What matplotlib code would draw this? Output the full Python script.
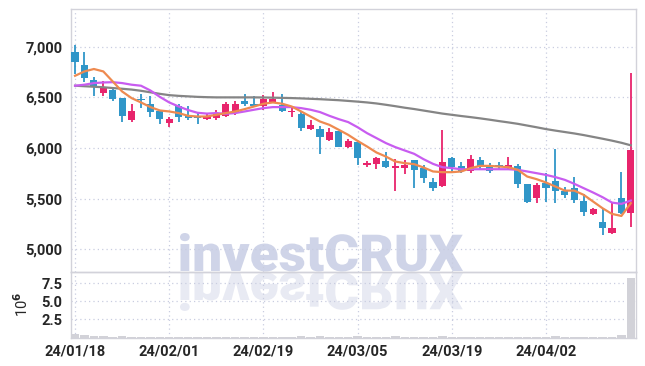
import matplotlib
matplotlib.use("Agg")
import matplotlib.pyplot as plt
from matplotlib.textpath import TextPath
from matplotlib.patches import PathPatch
from matplotlib.font_manager import FontProperties
from matplotlib.transforms import Affine2D, IdentityTransform
from matplotlib.ticker import FuncFormatter, FixedLocator

dates = ["24/01/18", "24/01/19", "24/01/22", "24/01/23", "24/01/24", "24/01/25", "24/01/26", "24/01/29", "24/01/30", "24/01/31",
         "24/02/01", "24/02/02", "24/02/05", "24/02/06", "24/02/07", "24/02/08", "24/02/13", "24/02/14", "24/02/15", "24/02/16",
         "24/02/19", "24/02/20", "24/02/21", "24/02/22", "24/02/23", "24/02/26", "24/02/27", "24/02/28", "24/02/29", "24/03/04",
         "24/03/05", "24/03/06", "24/03/07", "24/03/08", "24/03/11", "24/03/12", "24/03/13", "24/03/14", "24/03/15", "24/03/18",
         "24/03/19", "24/03/20", "24/03/21", "24/03/22", "24/03/25", "24/03/26", "24/03/27", "24/03/28", "24/03/29", "24/04/01",
         "24/04/02", "24/04/03", "24/04/04", "24/04/05", "24/04/08", "24/04/09", "24/04/11", "24/04/12", "24/04/15", "24/04/16"]

opens = [6950, 6820, 6670, 6545, 6570, 6490, 6275, 6480, 6430, 6370,
         6245, 6410, 6330, 6315, 6285, 6300, 6320, 6345, 6465, 6437,
         6418, 6445, 6427, 6352, 6338, 6190, 6187, 6081, 6170, 6015,
         6058, 5828, 5841, 5874, 5803, 5808, 5884, 5808, 5669, 5627,
         5900, 5824, 5775, 5884, 5818, 5834, 5808, 5824, 5647, 5505,
         5654, 5676, 5580, 5610, 5478, 5350, 5274, 5166, 5511, 5363]
highs = [7020, 6950, 6700, 6660, 6600, 6490, 6430, 6535, 6510, 6375,
         6310, 6430, 6410, 6355, 6345, 6378, 6455, 6460, 6535, 6515,
         6525, 6550, 6535, 6395, 6370, 6272, 6213, 6197, 6172, 6088,
         6065, 5868, 5910, 5960, 5890, 5884, 5886, 5834, 5703, 6175,
         5916, 5867, 5933, 5910, 5851, 5861, 5910, 5841, 5650, 5654,
         5752, 5990, 5614, 5713, 5548, 5405, 5400, 5462, 5762, 6740]
lows = [6730, 6650, 6510, 6510, 6465, 6255, 6260, 6395, 6310, 6240,
        6205, 6255, 6280, 6240, 6280, 6280, 6310, 6328, 6410, 6405,
        6380, 6440, 6360, 6310, 6165, 6180, 5943, 6065, 6013, 6005,
        5835, 5810, 5790, 5805, 5577, 5745, 5605, 5654, 5580, 5614,
        5758, 5752, 5758, 5795, 5752, 5790, 5785, 5604, 5456, 5456,
        5472, 5456, 5511, 5462, 5330, 5340, 5143, 5153, 5350, 5225]
closes = [6850, 6690, 6600, 6600, 6480, 6320, 6370, 6470, 6360, 6285,
          6290, 6305, 6295, 6300, 6315, 6335, 6435, 6435, 6430, 6418,
          6486, 6485, 6362, 6370, 6197, 6230, 6108, 6163, 6015, 6065,
          5900, 5850, 5900, 5811, 5818, 5834, 5785, 5709, 5604, 5858,
          5811, 5775, 5891, 5811, 5778, 5812, 5834, 5643, 5472, 5637,
          5610, 5580, 5538, 5488, 5373, 5400, 5215, 5209, 5363, 5982]

ma_short = [6713, 6756, 6780, 6756, 6657, 6558, 6493, 6450, 6404, 6371,
            6361, 6345, 6318, 6311, 6311, 6328, 6345, 6361, 6384, 6410,
            6437, 6450, 6437, 6410, 6361, 6311, 6262, 6229, 6180, 6130,
            6070, 6015, 5956, 5916, 5867, 5851, 5841, 5808, 5769, 5762,
            5762, 5769, 5802, 5824, 5824, 5818, 5811, 5785, 5719, 5693,
            5660, 5620, 5580, 5580, 5538, 5472, 5406, 5350, 5330, 5456]
ma_mid = [6615, 6625, 6641, 6647, 6650, 6641, 6625, 6615, 6568, 6505,
          6450, 6410, 6375, 6348, 6340, 6345, 6338, 6345, 6361, 6378,
          6394, 6404, 6404, 6404, 6394, 6378, 6355, 6318, 6285, 6256,
          6205, 6147, 6098, 6049, 6009, 5976, 5943, 5890, 5844, 5811,
          5802, 5791, 5791, 5791, 5791, 5791, 5791, 5785, 5769, 5752,
          5735, 5713, 5686, 5647, 5604, 5561, 5515, 5462, 5449, 5482]
ma_long = [6615, 6610, 6605, 6600, 6592, 6585, 6577, 6565, 6550, 6535,
           6522, 6515, 6510, 6505, 6502, 6500, 6500, 6500, 6500, 6500,
           6499, 6497, 6495, 6493, 6490, 6486, 6482, 6477, 6472, 6465,
           6458, 6450, 6440, 6427, 6413, 6398, 6385, 6370, 6355, 6340,
           6328, 6316, 6305, 6293, 6280, 6266, 6253, 6239, 6222, 6205,
           6187, 6172, 6158, 6144, 6128, 6110, 6092, 6073, 6052, 6027]

volume_m = [0.45, 0.30, 0.15, 0.15, 0.05, 0.15, 0.05, 0.05, 0.05, 0.05,
            0.05, 0.05, 0.05, 0.05, 0.05, 0.05, 0.05, 0.05, 0.05, 0.05,
            0.05, 0.05, 0.05, 0.05, 0.15, 0.05, 0.15, 0.05, 0.05, 0.05,
            0.15, 0.05, 0.05, 0.05, 0.15, 0.05, 0.05, 0.05, 0.05, 0.15,
            0.05, 0.05, 0.05, 0.05, 0.05, 0.05, 0.05, 0.05, 0.05, 0.05,
            0.05, 0.15, 0.05, 0.05, 0.05, 0.05, 0.05, 0.05, 0.35, 8.3]

tick_idx = [0, 10, 20, 30, 40, 50]
price_ticks = [5000, 5500, 6000, 6500, 7000]
vol_ticks = [2.5, 5.0, 7.5]

UP = "#e8246c"
DOWN = "#3096c8"
GRID = "#c9cde0"
SPINE = "#d2d2da"
TXT = "#262626"

plt.rcParams['font.family'] = ['Roboto', 'DejaVu Sans']
plt.rcParams['font.weight'] = 'bold'

W, H = 645, 366
fig = plt.figure(figsize=(W / 100, H / 100), dpi=100)
L, R = 71 / W, 636 / W
ax = fig.add_axes([L, 1 - 272 / H, R - L, (272 - 9) / H])
axv = fig.add_axes([L, 1 - 337.5 / H, R - L, (337.5 - 272) / H], sharex=ax)

# watermark (with mirrored reflection)
fp = FontProperties(family=['Roboto', 'DejaVu Sans'], weight='black')
tp = TextPath((0, 0), "investCRUX", size=51, prop=fp)
bb = tp.get_extents()
sx = 283 / bb.width
sy = 38 / (bb.y1)
base_y = H - 272
x0 = 180 - bb.x0 * sx
t1 = Affine2D().scale(sx, sy).translate(x0, base_y + 1)
t2 = Affine2D().scale(sx, -sy).translate(x0, base_y - 1)
fig.patches.append(PathPatch(tp, transform=t1 + IdentityTransform(), facecolor="#cfd4e8",
                             edgecolor="none", zorder=-1, figure=fig))
fig.patches.append(PathPatch(tp, transform=t2 + IdentityTransform(), facecolor="#e8eaf3",
                             edgecolor="none", zorder=-1, figure=fig))

for a in (ax, axv):
    a.set_facecolor("none")
    for s in a.spines.values():
        s.set_color(SPINE)
        s.set_linewidth(1.0)
    a.tick_params(length=0, colors=TXT, labelsize=10.5)
    a.grid(True, color=GRID, linestyle=(0, (1, 2.5)), linewidth=0.9)
    a.set_axisbelow(True)

n = len(dates)
xs = list(range(n))
cols = [UP if c >= o else DOWN for o, c in zip(opens, closes)]
ax.vlines(xs, lows, highs, colors=cols, linewidth=1.3, zorder=3)
bottoms = [min(o, c) for o, c in zip(opens, closes)]
heights = [max(abs(c - o), 10) for o, c in zip(opens, closes)]
ax.bar(xs, heights, bottom=bottoms, width=0.76, color=cols, linewidth=0, zorder=4)

ax.plot(xs, ma_long, color="#858585", linewidth=1.6, zorder=5)
ax.plot(xs, ma_mid, color="#c85cf0", linewidth=1.6, zorder=5)
ax.plot(xs, ma_short, color="#ee8a50", linewidth=1.6, zorder=5)

ax.set_xlim(-0.43, 59.55)
ax.set_ylim(4777, 7372)
ax.yaxis.set_major_locator(FixedLocator(price_ticks))
ax.yaxis.set_major_formatter(FuncFormatter(lambda v, p: f"{int(v):,}"))
ax.tick_params(axis='y', pad=6)
plt.setp(ax.get_xticklabels(), visible=False)

axv.bar(xs, volume_m, width=0.9, color="#d2d2d8", linewidth=0, zorder=3)
axv.set_ylim(0, 9.07)
axv.yaxis.set_major_locator(FixedLocator(vol_ticks))
axv.yaxis.set_major_formatter(FuncFormatter(lambda v, p: f"{v:.1f}"))
axv.tick_params(axis='y', pad=6)
axv.set_ylabel("10$^6$", color=TXT, fontsize=10.5, fontweight='normal')
axv.yaxis.set_label_coords((31 - 71) / (636 - 71), 0.5)
axv.xaxis.set_major_locator(FixedLocator(tick_idx))
axv.set_xticklabels([dates[i] for i in tick_idx])
axv.tick_params(axis='x', pad=5, labelsize=10.5)

fig.savefig("out.png", dpi=100)
